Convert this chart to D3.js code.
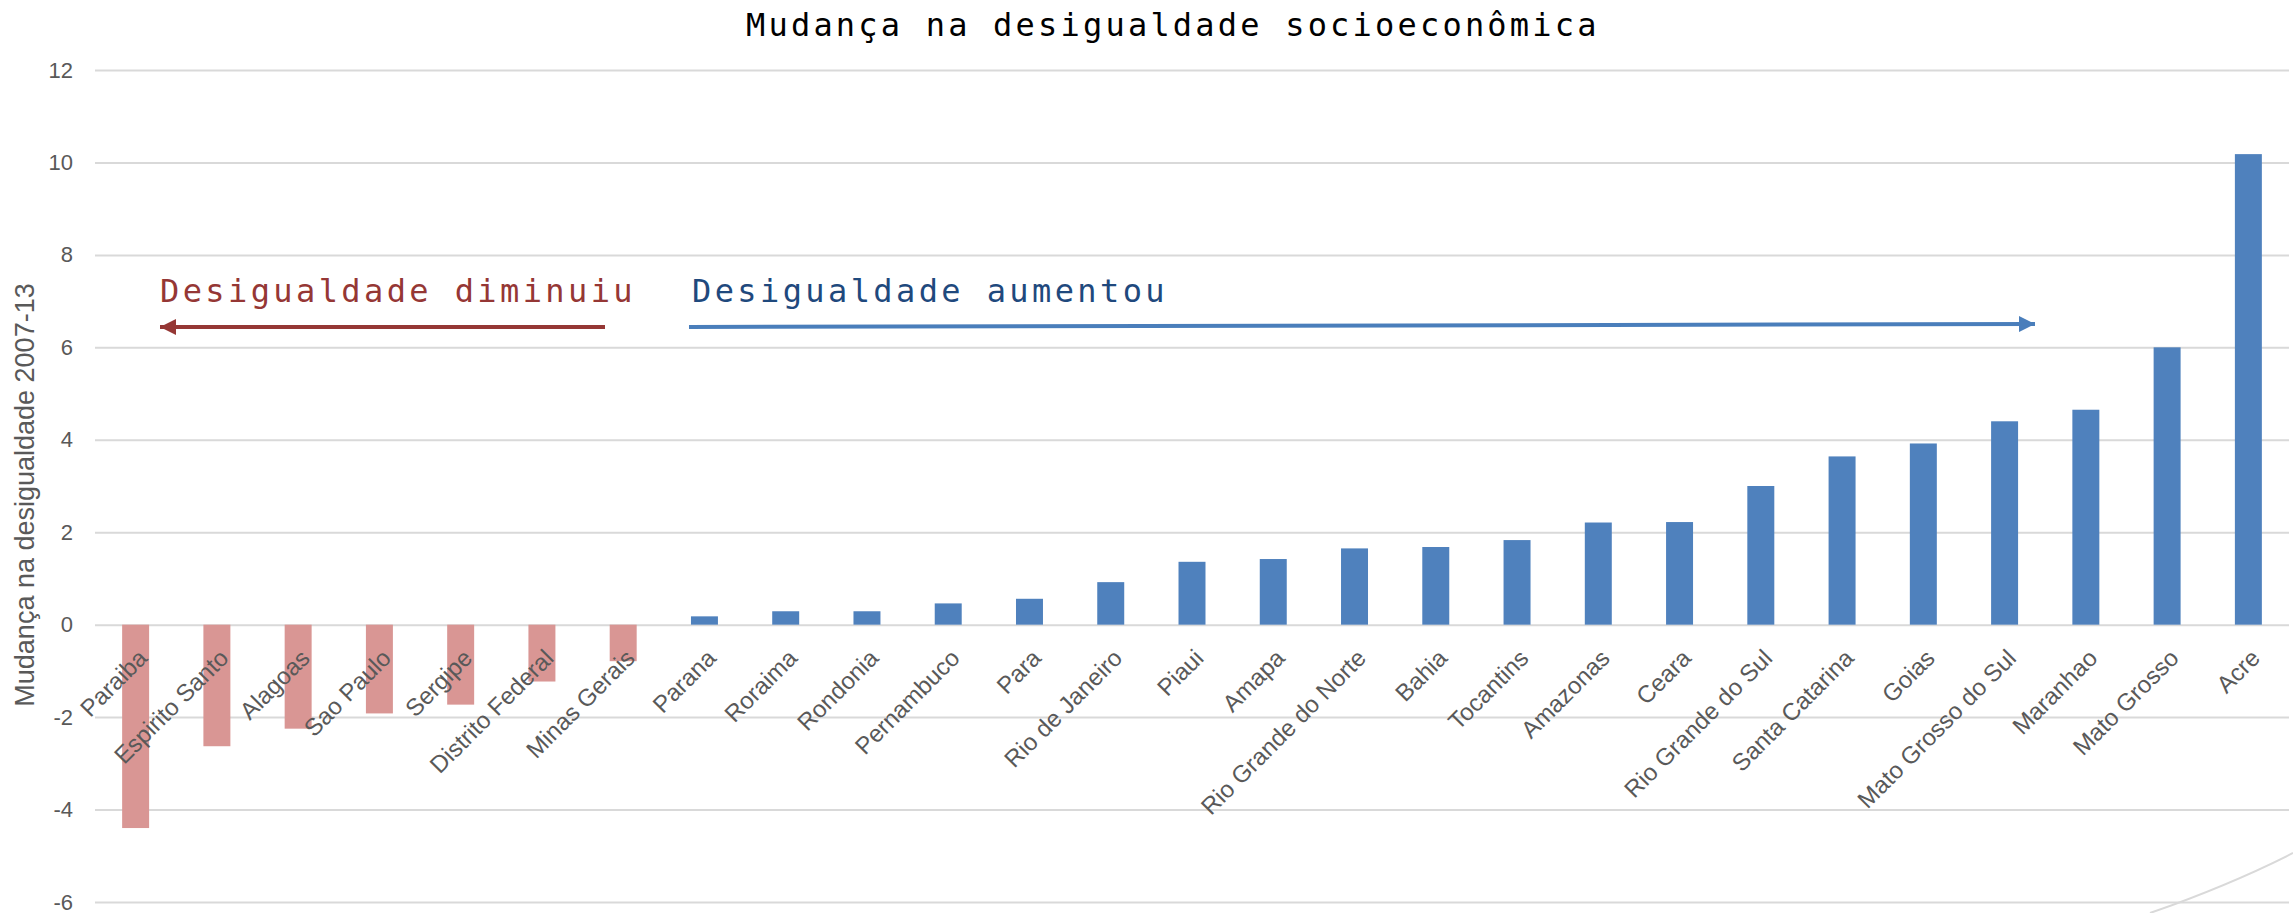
<!DOCTYPE html>
<html>
<head>
<meta charset="utf-8">
<script src="https://d3js.org/d3.v7.min.js"></script>
<style>
	body { margin: 0; background: #ffffff; }
	svg { display: block; }
</style>
</head>
<body>
<script>
// Categories, sorted by change (2007-13)
var states = ["Paraiba", "Espirito Santo", "Alagoas", "Sao Paulo", "Sergipe", "Distrito Federal",
	"Minas Gerais", "Parana", "Roraima", "Rondonia", "Pernambuco", "Para", "Rio de Janeiro", "Piaui",
	"Amapa", "Rio Grande do Norte", "Bahia", "Tocantins", "Amazonas", "Ceara", "Rio Grande do Sul",
	"Santa Catarina", "Goias", "Mato Grosso do Sul", "Maranhao", "Mato Grosso", "Acre"];

var changes = [-4.40, -2.63, -2.25, -1.92, -1.73, -1.23, -0.79, 0.18, 0.29, 0.29, 0.46, 0.56, 0.92,
	1.36, 1.42, 1.65, 1.68, 1.83, 2.21, 2.22, 3.00, 3.64, 3.92, 4.40, 4.65, 6.00, 10.18];

var yTicks = [-6, -4, -2, 0, 2, 4, 6, 8, 10, 12];

var titleText = "Mudança na desigualdade socioeconômica";
var yTitle = "Mudança na desigualdade 2007-13";
var noteDown = "Desigualdade diminuiu";
var noteUp = "Desigualdade aumentou";

var width = 2293,
	height = 913;

var plotLeft = 95, plotRight = 2289, plotTop = 70, plotBottom = 902;

var svg = d3.select("body")
			.append("svg")
			.attr("width", width)
			.attr("height", height);

var x = d3.scaleBand()
	.domain(states)
	.range([plotLeft, plotRight])
	.paddingInner(0.668)
	.paddingOuter(0.334);

var y = d3.scaleLinear()
	.domain([-6, 12])
	.range([plotBottom, plotTop]);

// Gridlines + tick labels
var yAxis = svg.append("g")
	.attr("transform", "translate(" + plotLeft + ",0)")
	.call(d3.axisLeft(y)
		.tickValues(yTicks)
		.tickSize(-(plotRight - plotLeft))
		.tickPadding(22)
		.tickFormat(function(d) { return String(d); }));

yAxis.select(".domain").remove();
yAxis.selectAll(".tick line")
	.attr("stroke", "#d9d9d9")
	.attr("stroke-width", 2);
yAxis.selectAll(".tick text")
	.attr("fill", "#595959")
	.style("font-family", "Arial, 'Liberation Sans', sans-serif")
	.style("font-size", "22px");

// Bars
svg.append("g")
	.selectAll("rect")
	.data(changes)
	.enter()
	.append("rect")
	.attr("x", function(d, i) { return x(states[i]); })
	.attr("width", x.bandwidth())
	.attr("y", function(d) { return y(Math.max(0, d)); })
	.attr("height", function(d) { return Math.abs(y(d) - y(0)); })
	.attr("fill", function(d) { return d < 0 ? "#d99694" : "#4f81bd"; });

// Category labels, rotated 45 degrees, ending under each bar
svg.append("g")
	.selectAll("text")
	.data(states)
	.enter()
	.append("text")
	.attr("transform", function(d) {
		return "translate(" + (x(d) + x.bandwidth() / 2 + 13) + "," + (y(0) + 35) + ") rotate(-45)";
	})
	.attr("text-anchor", "end")
	.attr("fill", "#595959")
	.style("font-family", "Arial, 'Liberation Sans', sans-serif")
	.style("font-size", "24px")
	.text(function(d) { return d; });

// Axis title
svg.append("text")
	.attr("transform", "translate(34," + ((plotTop + plotBottom) / 2 + 9) + ") rotate(-90)")
	.attr("text-anchor", "middle")
	.attr("fill", "#595959")
	.style("font-family", "Arial, 'Liberation Sans', sans-serif")
	.style("font-size", "27px")
	.text(yTitle);

// Chart title
var mono = "'DejaVu Sans Mono', monospace";
svg.append("text")
	.attr("x", 746)
	.attr("y", 36)
	.attr("fill", "#000000")
	.style("font-family", mono)
	.style("font-size", "32px")
	.style("letter-spacing", "3.2px")
	.text(titleText);

// Annotations
var defs = svg.append("defs");
function marker(id, color) {
	defs.append("marker")
		.attr("id", id)
		.attr("viewBox", "0 0 10 10")
		.attr("refX", 10)
		.attr("refY", 5)
		.attr("markerUnits", "userSpaceOnUse")
		.attr("markerWidth", 16)
		.attr("markerHeight", 16)
		.attr("orient", "auto")
		.append("path")
		.attr("d", "M0,0 L10,5 L0,10 Z")
		.attr("fill", color);
}
marker("headRed", "#953735");
marker("headBlue", "#4a7ebb");

svg.append("text")
	.attr("x", 160)
	.attr("y", 302)
	.attr("fill", "#953735")
	.style("font-family", mono)
	.style("font-size", "32px")
	.style("letter-spacing", "3.4px")
	.text(noteDown);

svg.append("text")
	.attr("x", 692)
	.attr("y", 302)
	.attr("fill", "#1f497d")
	.style("font-family", mono)
	.style("font-size", "32px")
	.style("letter-spacing", "3.4px")
	.text(noteUp);

svg.append("line")
	.attr("x1", 605).attr("y1", 327)
	.attr("x2", 160).attr("y2", 327)
	.attr("stroke", "#953735")
	.attr("stroke-width", 4)
	.attr("marker-end", "url(#headRed)");

svg.append("line")
	.attr("x1", 689).attr("y1", 327)
	.attr("x2", 2035).attr("y2", 324)
	.attr("stroke", "#4a7ebb")
	.attr("stroke-width", 4)
	.attr("marker-end", "url(#headBlue)");

// faint border arc in the lower right corner
svg.append("path")
	.attr("d", "M2150,913 Q2230,885 2293,853")
	.attr("fill", "none")
	.attr("stroke", "#d9d9d9")
	.attr("stroke-width", 2);
</script>
</body>
</html>
